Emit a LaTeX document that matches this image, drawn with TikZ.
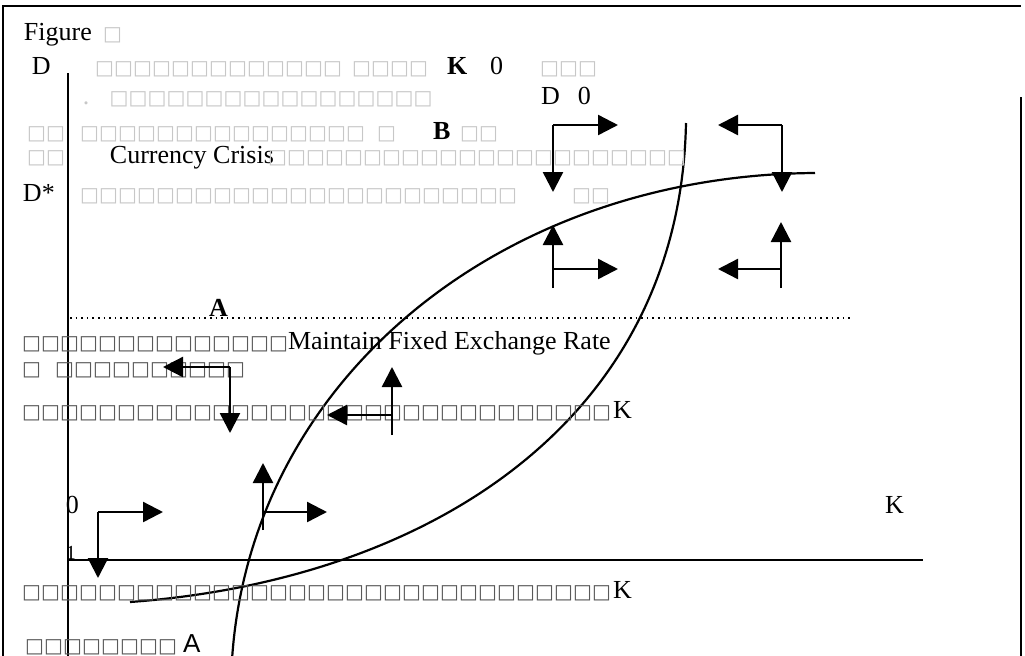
\documentclass[tikz,border=0pt]{standalone}
\usepackage{fontspec}
\setmainfont{Liberation Serif}
\newfontfamily\tofufont{DejaVu Sans}
\newfontfamily\labelsans{Liberation Sans}
\usetikzlibrary{positioning}
\usetikzlibrary{arrows.meta}
\tikzset{
	every node/.style={anchor=base west,inner sep=0pt,outer sep=0pt,font=\fontsize{13}{15}\selectfont},
	flow/.style={-{Triangle[length=10pt,width=10pt]},line width=1.2pt},
	curve/.style={line width=1.1pt},
	axis/.style={line width=1pt},
	faint/.style={text=black!22},
	dark/.style={text=black!65},
	heavy/.style={font=\fontsize{13}{15}\selectfont\bfseries}
}
% a row of n empty glyph boxes
\newcommand{\tofu}[1]{{\tofufont\foreach \i in {1,...,#1}{\makebox[9.5pt]{\fontsize{10}{10}\selectfont □}}}}

\begin{document}
\begin{tikzpicture}[x=0.5pt,y=-0.5pt]
	\useasboundingbox (0,0) rectangle (1025,655);
	% frame
	\draw[line width=0.9pt] (3,660) -- (3,6) -- (1021,6);
	\draw[line width=0.9pt] (1021,97) -- (1021,660);

	% axes
	\coordinate (origin) at (68,560);
	\coordinate (y_top) at (68,73);
	\coordinate (y_bot) at (68,660);
	\coordinate (x_end) at (923,560);
	\draw[axis] (y_top) -- (y_bot);
	\draw[axis] (origin) -- (x_end);
	\coordinate (a_left) at (70,318);
	\coordinate (a_right) at (853,318);
	\draw[dotted,line width=0.8pt] (a_left) -- (a_right);

	% curves
	\coordinate (c1_start) at (232,660);
	\coordinate (c1_end) at (815,173);
	\draw[curve] (c1_start) .. controls (250,380) and (500,175) .. (c1_end);
	\coordinate (c2_start) at (130,602);
	\coordinate (c2_end) at (686,123);
	\draw[curve] (c2_start) .. controls (430,580) and (680,420) .. (c2_end);

	% upper text block
	\node (title) at (24,40) {Figure};
	\node[faint] (title_no) at (103,40) {\tofu{1}};
	\node (d_lbl) at (32,74) {D};
	\node[faint] (row_d) at (95,74) {\tofu{13}\hspace{5pt}\tofu{4}};
	\node[heavy] (k_zero) at (447,74) {K};
	\node (zero_a) at (490,74) {0};
	\node[faint] (row_d_end) at (540,74) {\tofu{3}};
	\node[faint] (row_two) at (83,104) {.\hspace{10pt}\tofu{17}};
	\node (d_zero) at (541,104) {D\hspace{9pt}0};
	\node[faint] (row_b_pre) at (27,139) {\tofu{2}};
	\node[faint] (row_b) at (80,139) {\tofu{15}\hspace{6pt}\tofu{1}};
	\node[heavy] (b_lbl) at (433,139) {B};
	\node[faint] (row_b_end) at (460,139) {\tofu{2}};
	\node[faint] (row_c_pre) at (27,163) {\tofu{2}};
	\node (crisis) at (110,163) {Currency Crisis};
	\node[faint] (row_c) at (268,163) {\tofu{22}};
	\node (d_star) at (23,201) {D*};
	\node[faint] (row_s) at (80,201) {\tofu{23}};
	\node[faint] (row_s_end) at (572,201) {\tofu{2}};
	\node[heavy] (a_lbl) at (209,316) {A};

	% lower text block
	\node[dark] (row_m) at (22,349) {\tofu{14}};
	\node (maintain) [right=0pt of row_m.base east,anchor=base west] {Maintain Fixed Exchange Rate};
	\node[dark] (row_n) at (22,375) {\tofu{1}\hspace{7pt}\tofu{10}};
	\node[dark] (row_k) at (22,418) {\tofu{31}};
	\node (k_one) [right=1pt of row_k.base east,anchor=base west] {K};
	\node (zero_b) at (66,513) {0};
	\node (k_axis) at (885,513) {K};
	\node[font=\fontsize{10}{11}\selectfont] (one) at (66,559) {1};
	\node[dark] (row_q) at (22,598) {\tofu{31}};
	\node (k_two) [right=1pt of row_q.base east,anchor=base west] {K};
	\node[dark] (row_z) at (25,652) {\tofu{8}};
	\node[font=\fontsize{13}{15}\labelsans] (a_two) [right=3pt of row_z.base east,anchor=base west] {A};

	% motion arrows, upper region
	\coordinate (tl_corner) at (553,125);
	\coordinate (tl_right) at (618,125);
	\coordinate (tl_down) at (553,192);
	\path[flow] (tl_corner) edge (tl_right) (tl_corner) edge (tl_down);
	\coordinate (tr_corner) at (782,125);
	\coordinate (tr_left) at (718,125);
	\coordinate (tr_down) at (782,192);
	\path[flow] (tr_corner) edge (tr_left) (tr_corner) edge (tr_down);
	\coordinate (bl_base) at (553,288);
	\coordinate (bl_corner) at (553,269);
	\coordinate (bl_up) at (553,225);
	\coordinate (bl_right) at (618,269);
	\path[flow] (bl_base) edge (bl_up) (bl_corner) edge (bl_right);
	\coordinate (br_base) at (781,288);
	\coordinate (br_corner) at (781,269);
	\coordinate (br_up) at (781,222);
	\coordinate (br_left) at (718,269);
	\path[flow] (br_base) edge (br_up) (br_corner) edge (br_left);

	% motion arrows, lower region
	\coordinate (ml_corner) at (230,367);
	\coordinate (ml_left) at (163,367);
	\coordinate (ml_down) at (230,433);
	\path[flow] (ml_corner) edge (ml_left) (ml_corner) edge (ml_down);
	\coordinate (mm_base) at (392,435);
	\coordinate (mm_up) at (392,367);
	\coordinate (mm_corner) at (392,415);
	\coordinate (mm_left) at (327,415);
	\path[flow] (mm_base) edge (mm_up) (mm_corner) edge (mm_left);
	\coordinate (ll_corner) at (98,512);
	\coordinate (ll_right) at (163,512);
	\coordinate (ll_down) at (98,578);
	\path[flow] (ll_corner) edge (ll_right) (ll_corner) edge (ll_down);
	\coordinate (lm_base) at (263,530);
	\coordinate (lm_up) at (263,463);
	\coordinate (lm_corner) at (263,512);
	\coordinate (lm_right) at (327,512);
	\path[flow] (lm_base) edge (lm_up) (lm_corner) edge (lm_right);
\end{tikzpicture}
\end{document}
